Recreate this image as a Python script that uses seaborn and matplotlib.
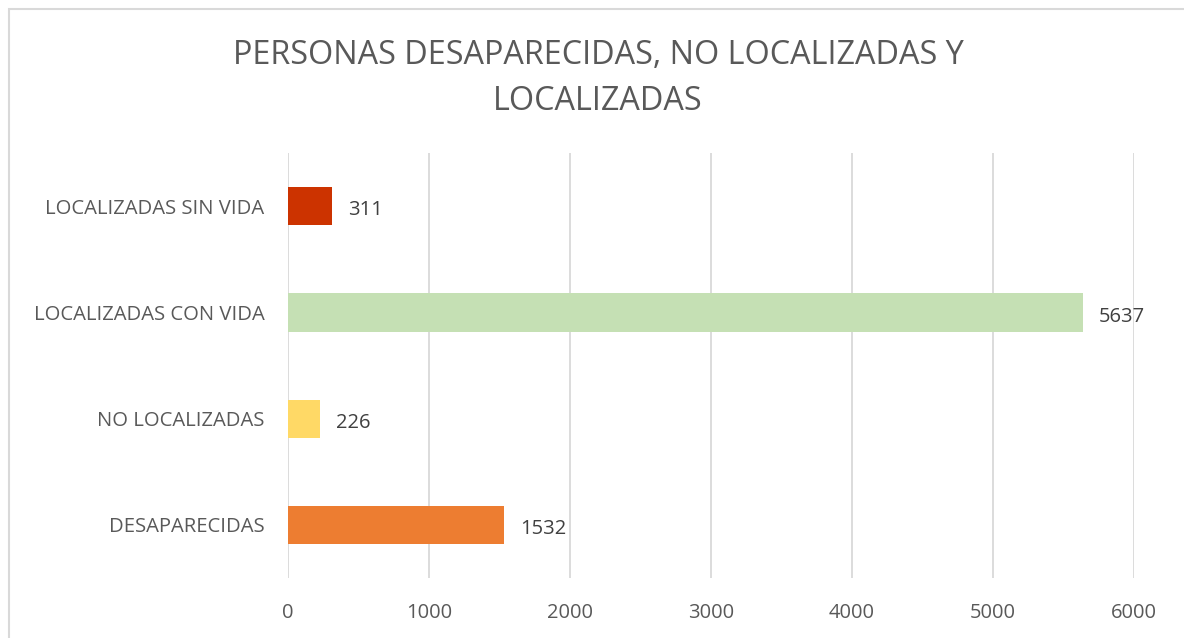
import matplotlib
matplotlib.use("Agg")
import matplotlib.pyplot as plt
import seaborn as sns
import pandas as pd
from matplotlib.patches import Rectangle

categorias = ["LOCALIZADAS SIN VIDA", "LOCALIZADAS CON VIDA", "NO LOCALIZADAS", "DESAPARECIDAS"]
valores = [311, 5637, 226, 1532]
colores = ["#CC3300", "#C5E0B4", "#FFD966", "#ED7D31"]
ticks_x = [0, 1000, 2000, 3000, 4000, 5000, 6000]

df = pd.DataFrame({"categoria": categorias, "valor": valores})

sns.set_theme(style="white")
plt.rcParams["font.family"] = ["Open Sans", "DejaVu Sans"]

fig = plt.figure(figsize=(11.84, 6.38), dpi=100)
ax = fig.add_axes([288 / 1184, 1 - 578 / 638, (1134 - 288) / 1184, (578 - 153) / 638])

sns.barplot(data=df, x="valor", y="categoria", hue="categoria", palette=colores,
            legend=False, width=0.36, saturation=1, linewidth=0, ax=ax, orient="h")

ax.set_xlim(0, 6000)
ax.set_ylim(3.5, -0.5)
ax.set_xticks(ticks_x)
ax.set_xticklabels([str(t) for t in ticks_x])
ax.xaxis.grid(True, color="#D9D9D9", linewidth=1.3)
ax.set_axisbelow(True)
for s in ax.spines.values():
    s.set_visible(False)
ax.tick_params(axis="x", length=0, labelsize=14.5, labelcolor="#595959", pad=18)
ax.tick_params(axis="y", length=0, labelsize=14.6, labelcolor="#595959", pad=17)
ax.set_xlabel("")
ax.set_ylabel("")

for i, v in enumerate(valores):
    ax.text(v + 115, i + 0.04, str(v), va="center", ha="left", fontsize=14.5, color="#404040")

fig.text(598 / 1184, 1 - 56 / 638, "PERSONAS DESAPARECIDAS, NO LOCALIZADAS Y",
         ha="center", va="center", fontsize=23.3, color="#595959", fontweight="normal")
fig.text(598 / 1184, 1 - 101 / 638, "LOCALIZADAS",
         ha="center", va="center", fontsize=23.3, color="#595959", fontweight="normal")

fig.patches.append(Rectangle((9 / 1184, -0.02), 1.1, 1 - 9 / 638 + 0.02,
                             transform=fig.transFigure, fill=False,
                             edgecolor="#D9D9D9", linewidth=1.5))

fig.savefig("out.png", dpi=100, facecolor="white")
